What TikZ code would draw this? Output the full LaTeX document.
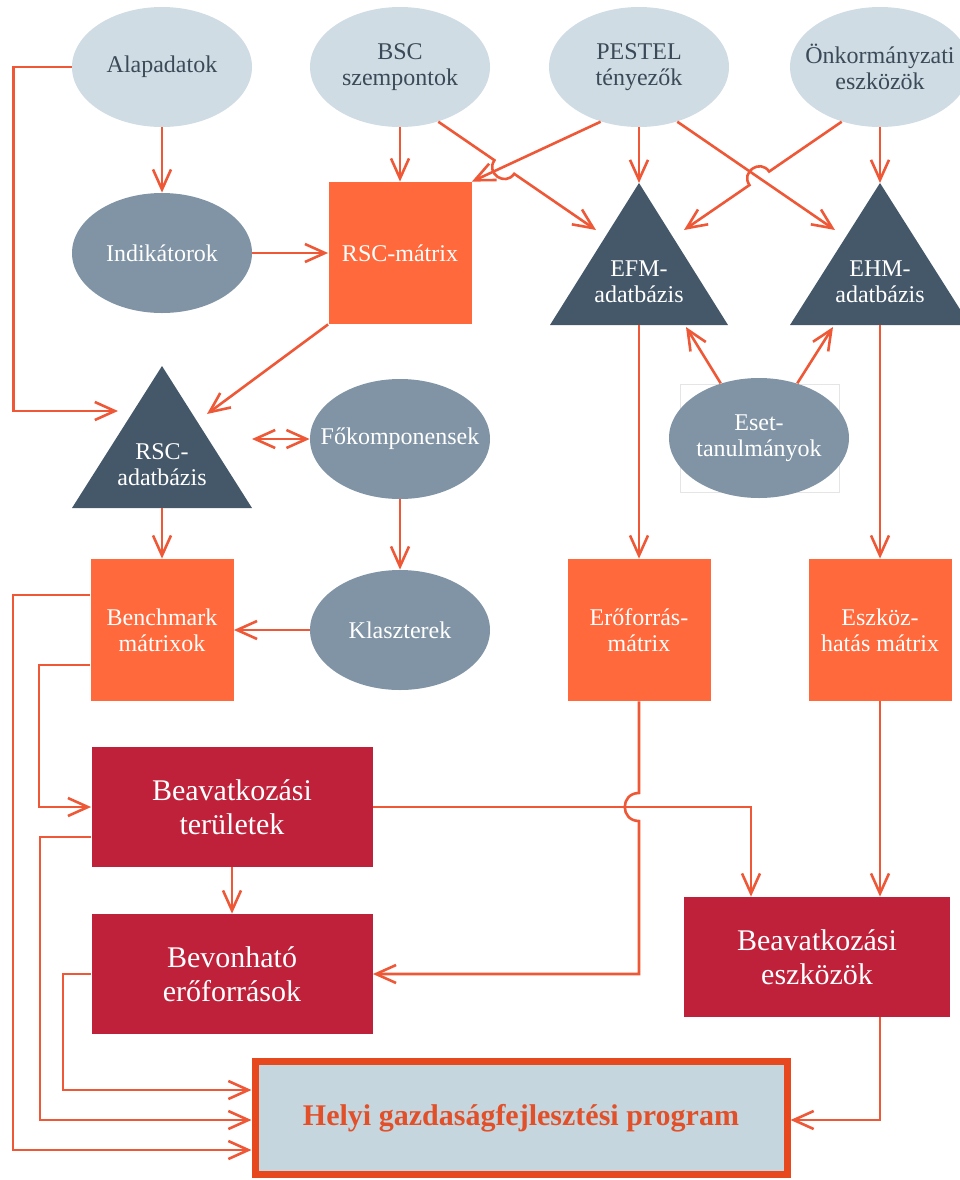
\documentclass[tikz,border=0pt]{standalone}
\usepackage{fontspec}
\setmainfont{Liberation Serif}
\usetikzlibrary{shapes.geometric, arrows.meta, calc, backgrounds}
\definecolor{paleblue}{HTML}{D0DCE4}
\definecolor{inktext}{HTML}{3B4A58}
\definecolor{midgrey}{HTML}{8094A5}
\definecolor{darkslate}{HTML}{45586A}
\definecolor{mtxorange}{HTML}{FF693C}
\definecolor{crimson}{HTML}{C0213A}
\definecolor{flowred}{HTML}{EE5837}
\definecolor{progfill}{HTML}{C6D6DF}
\definecolor{progline}{HTML}{E8481E}
\definecolor{progtext}{HTML}{E2502A}

\begin{document}
\begin{tikzpicture}[x=0.5pt, y=-0.5pt, node distance=93pt,
        src/.style={ellipse, fill=paleblue, text=inktext, minimum width=90pt, minimum height=60pt,
            inner xsep=-25pt, inner ysep=0pt, align=center, font=\fontsize{12}{13}\selectfont},
        derived/.style={src, fill=midgrey, text=white},
        mtx/.style={rectangle, fill=mtxorange, text=white, minimum width=71.5pt, minimum height=71pt,
            align=center, font=\fontsize{12}{13}\selectfont},
        dbtxt/.style={text=white, align=center, font=\fontsize{12}{13}\selectfont},
        dbfill/.style={fill=darkslate},
        selbox/.style={draw=black!10, line width=0.4pt},
        act/.style={rectangle, fill=crimson, text=white, minimum width=140.5pt, minimum height=60pt,
            align=center, font=\fontsize{15}{17}\selectfont},
        prog/.style={rectangle, draw=progline, line width=3.5pt, fill=progfill, text=progtext,
            minimum width=266pt, minimum height=56.5pt, font=\bfseries\fontsize{15}{17}\selectfont},
        flow/.style={draw=flowred, line width=1.3pt, -{Straight Barb[length=10pt, width=9pt]}}]
        \useasboundingbox (0,0) rectangle (960,1180);
        \node (alap)     [src] at (162,67)                                   {Alapadatok};
        \node (bsc)      [src, node distance=119pt, right of=alap]           {BSC\\szempontok};
        \node (pestel)   [src, node distance=119.5pt, right of=bsc]          {PESTEL\\tényezők};
        \node (onk)      [src, node distance=120.5pt, right of=pestel]       {Önkormányzati\\eszközök};
        \node (ind)      [derived, below of=alap]                            {Indikátorok};
        \node (rscm)     [mtx, below of=bsc]                                 {RSC-mátrix};
        \node (efm)      [dbtxt, node distance=107.5pt, below of=pestel]     {EFM-\\adatbázis};
        \node (ehm)      [dbtxt, node distance=107.5pt, below of=onk]        {EHM-\\adatbázis};
        \node (rscdb)    [dbtxt, node distance=106pt, below of=ind]          {RSC-\\adatbázis};
        \node (fokomp)   [derived, below of=rscm]                            {Főkomponensek};
        \node (klaszter) [derived, node distance=95.5pt, below of=fokomp]    {Klaszterek};
        \node (bench)    [mtx, node distance=119pt, left of=klaszter]        {Benchmark\\mátrixok};
        \node (eset)     [derived] at (759,438)                              {Eset-\\tanulmányok};
        \node (erof)     [mtx, node distance=174pt, below of=efm]            {Erőforrás-\\mátrix};
        \node (eszk)     [mtx, node distance=174pt, below of=ehm]            {Eszköz-\\hatás mátrix};
        \node (bt)       [act, node distance=88.5pt, below of=bench, xshift=35pt]   {Beavatkozási\\területek};
        \node (bev)      [act, node distance=83.5pt, below of=bt]                   {Bevonható\\erőforrások};
        \node (be)       [act, minimum width=133pt, node distance=163.5pt, below of=eszk, xshift=-31.5pt] {Beavatkozási\\eszközök};
        \node (hgp)      [prog, node distance=72pt, below of=bev, xshift=144.5pt]   {Helyi gazdaságfejlesztési program};
        \begin{scope}[on background layer]
            \fill[dbfill] ($(rscdb)+(0,-99)$) coordinate (rscdb-top) -- ($(rscdb)+(90,43)$) -- ($(rscdb)+(-90,43)$) -- cycle;
            \fill[dbfill] ($(efm)+(0,-99)$)   coordinate (efm-top)   -- ($(efm)+(89,43)$)   -- ($(efm)+(-89,43)$)   -- cycle;
            \fill[dbfill] ($(ehm)+(0,-99)$)   coordinate (ehm-top)   -- ($(ehm)+(90,43)$)   -- ($(ehm)+(-90,43)$)   -- cycle;
            \draw[selbox] ($(eset)+(-79,-54)$) rectangle ($(eset)+(80,54)$);
        \end{scope}
        \coordinate (rscdb-w)    at ($(rscdb)+(-44,-54)$);
        \coordinate (rscdb-e)    at ($(rscdb)+(45,-51)$);
        \coordinate (rscdb-side) at ($(rscdb)+(90,-26)$);
        \coordinate (rscdb-bot)  at ($(rscdb)+(0,43)$);
        \coordinate (efm-w)      at ($(efm)+(-43,-52)$);
        \coordinate (efm-e)      at ($(efm)+(45,-52)$);
        \coordinate (efm-se)     at ($(efm)+(47,45)$);
        \coordinate (efm-bot)    at ($(efm)+(0,43)$);
        \coordinate (ehm-w)      at ($(ehm)+(-45,-52)$);
        \coordinate (ehm-sw)     at ($(ehm)+(-47,45)$);
        \coordinate (ehm-bot)    at ($(ehm)+(0,43)$);
        \draw[flow] (alap.south)      -- (ind.north);
        \draw[flow] (bsc.south)       -- (rscm.north);
        \draw[flow] (ind.east)        -- (rscm.west);
        \draw[flow] (alap.west)       -- ++(-58,0) |- (rscdb-w);
        \draw[flow] (rscm.south west) -- (rscdb-e);
        \draw[flow] (pestel.-125)     -- (rscm.north east);
        \draw[flow] (bsc.-55) -- ($(bsc.-55)!0.356!(efm-w)$) .. controls +(-9,13) and +(-9,13) .. ($(bsc.-55)!0.481!(efm-w)$) -- (efm-w);
        \draw[flow] (pestel.south)    -- (efm-top);
        \draw[flow] (pestel.-55)      -- (ehm-w);
        \draw[flow] (onk.-125) -- ($(onk.-125)!0.46!(efm-e)$) .. controls +(-9,-13) and +(-9,-13) .. ($(onk.-125)!0.585!(efm-e)$) -- (efm-e);
        \draw[flow] (onk.south)       -- (ehm-top);
        \draw[flow] (efm-bot)         -- (erof.north);
        \draw[flow] (ehm-bot)         -- (eszk.north);
        \draw[flow] (eset.125)        -- (efm-se);
        \draw[flow] (eset.55)         -- (ehm-sw);
        \draw[flow, {Straight Barb[length=10pt, width=9pt]}-{Straight Barb[length=10pt, width=9pt]}] (rscdb-side) -- (fokomp.west);
        \draw[flow] (fokomp.south)    -- (klaszter.north);
        \draw[flow] (klaszter.west)   -- (bench.east);
        \draw[flow] (rscdb-bot)       -- (bench.north);
        \draw[flow] ($(bench.west)+(0,-35)$) -- ++(-77,0) |- ($(hgp.west)+(0,32)$);
        \draw[flow] ($(bench.west)+(0,35)$)  -- ++(-51,0) |- (bt.west);
        \draw[flow] ($(bt.west)+(0,30)$)     -- ++(-51,0) |- ($(hgp.west)+(0,2)$);
        \draw[flow] (bev.west)               -- ++(-28,0) |- ($(hgp.west)+(0,-28)$);
        \draw[flow] (bt.south)        -- (bev.north);
        \draw[flow] (bt.east)         -| ($(be.north)+(-66,0)$);
        \draw[flow] (eszk.south)      -- (eszk.south |- be.north);
        \draw[flow] ($(be.south)+(63,0)$) |- ($(hgp.east)+(0,2)$);
        \draw[flow] (erof.south) -- ($(erof.south |- bt.east)+(0,-14)$) .. controls +(-19,0) and +(-19,0) .. ($(erof.south |- bt.east)+(0,14)$) |- (bev.east);
    \end{tikzpicture}
\end{document}
